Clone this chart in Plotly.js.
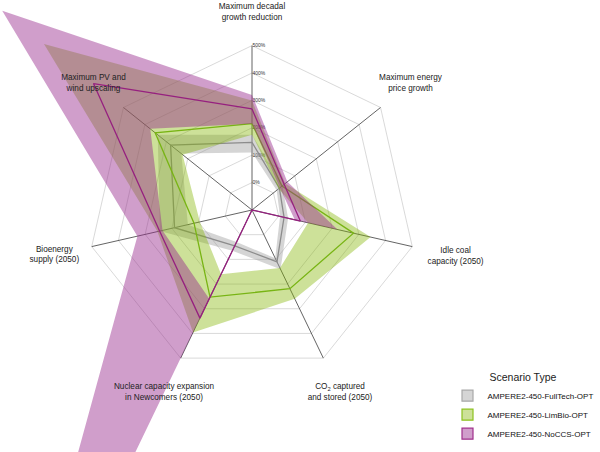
<!DOCTYPE html>
<html><head><meta charset="utf-8">
<script src="https://cdn.plot.ly/plotly-3.0.1.min.js"></script>
<style>
html,body{margin:0;padding:0;width:600px;height:452px;overflow:hidden;background:#fff}
#chart{position:absolute;left:-98.5px;top:-140.5px;width:1000px;height:700px}
</style>
</head><body><div id="chart"></div>
<script>
// ---- axes of the radar ----
const axisKeys = ["growth", "price", "coal", "ccs", "nuclear", "bio", "pvwind"];
const axisLabels = [
  "Maximum decadal<br>growth reduction",
  "Maximum energy<br>price growth",
  "Idle coal<br>capacity (2050)",
  "CO<sub>2</sub> captured<br>and stored (2050)",
  "Nuclear capacity expansion<br>in Newcomers (2050)",
  "Bioenergy<br>supply (2050)",
  "Maximum PV and<br>wind upscaling"
];
const tickValues = [0, 1, 2, 3, 4, 5];
const tickLabels = ["0%", "100%", "200%", "300%", "400%", "500%"];
const scenarioNames = ["AMPERE2-450-FullTech-OPT", "AMPERE2-450-LimBio-OPT", "AMPERE2-450-NoCCS-OPT"];

// ---- values (1 = 100 %), order follows axisKeys ----
const fullTechMin    = [1.10, 0.15, 0.05, 0.95, 0.30, 1.40, 2.30];
const fullTechMedian = [1.47, 0.28, 0.20, 1.10, 0.45, 1.90, 2.80];
const fullTechMax    = [1.75, 0.42, 0.35, 1.40, 0.65, 2.45, 3.40];

const limBioMin    = [1.75, 0.25, 1.10, 1.35, 1.60, 0.95, 2.24];
const limBioMedian = [2.15, 0.40, 2.80, 2.19, 2.53, 1.17, 3.52];
const limBioMax    = [3.00, 0.55, 3.44, 2.60, 3.96, 2.54, 8.71];

const noCcsMin    = [2.15, 0.30, 0.60, -1, 2.60, 2.35, 3.75];
const noCcsMedian = [2.69, 0.50, 0.81, -1, 3.38, 2.46, 6.40];
const noCcsMax    = [3.20, 0.65, 2.20, -1, 20.0, 3.29, 10.66];

// ---- styling ----
const sans = "Liberation Sans, Arial, sans-serif";
const bandColors = ["rgba(150,150,150,0.40)", "rgba(130,180,0,0.40)", "rgba(150,40,140,0.45)"];
const lineColors = ["#8c8c8c", "#78b414", "#96207f"];
const legendBorders = ["#a8a8a8", "#8cc21e", "#a0308c"];
const radialMin = -1;
const pxPerUnit = 27.4;
const polarRadiusPx = 350;
const labelRadii = [6.22, 6.4, 6.62, 6.4, 6.4, 6.4, 6.4];

function closeLoop(a) { return a.concat([a[0]]); }

function bandTrace(minV, maxV, color) {
  const theta = closeLoop(axisKeys).concat([axisKeys[0]], axisKeys.slice(1).reverse(), [axisKeys[0]]);
  const r = closeLoop(maxV).concat([minV[0]], minV.slice(1).reverse(), [minV[0]]);
  return {
    type: "scatterpolar", r: r, theta: theta, mode: "lines",
    fill: "toself", fillcolor: color, line: {width: 0, color: color},
    showlegend: false, hoverinfo: "skip", cliponaxis: false
  };
}
function medianTrace(vals, color) {
  return {
    type: "scatterpolar", r: closeLoop(vals), theta: closeLoop(axisKeys), mode: "lines",
    line: {width: 1.3, color: color}, showlegend: false, hoverinfo: "skip", cliponaxis: false
  };
}
function legendTrace(name, fill, border) {
  // legend entry only: the single point has no radius, so nothing is drawn on the chart
  return {
    type: "scatterpolar", r: [null], theta: [axisKeys[0]], mode: "markers", name: name,
    marker: {symbol: "square", size: 11, color: fill, line: {color: border, width: 1.2}},
    hoverinfo: "skip", showlegend: true
  };
}

// spokes from the centre to the outer tick ring
const spokeR = [], spokeT = [];
axisKeys.forEach(k => { spokeR.push(radialMin, tickValues[tickValues.length - 1], null); spokeT.push(k, k, null); });

const traces = [
  {type: "scatterpolar", r: spokeR, theta: spokeT, mode: "lines",
   line: {color: "#3c3c3c", width: 0.8}, showlegend: false, hoverinfo: "skip", connectgaps: false},
  bandTrace(fullTechMin, fullTechMax, bandColors[0]),
  medianTrace(fullTechMedian, lineColors[0]),
  bandTrace(limBioMin, limBioMax, bandColors[1]),
  medianTrace(limBioMedian, lineColors[1]),
  bandTrace(noCcsMin, noCcsMax, bandColors[2]),
  medianTrace(noCcsMedian, lineColors[2]),
  {type: "scatterpolar", r: labelRadii, theta: axisKeys, mode: "text",
   text: axisLabels, textposition: "middle center", cliponaxis: false,
   textfont: {family: sans, size: 8.2, color: "#222"},
   showlegend: false, hoverinfo: "skip"},
  legendTrace(scenarioNames[0], bandColors[0], legendBorders[0]),
  legendTrace(scenarioNames[1], bandColors[1], legendBorders[1]),
  legendTrace(scenarioNames[2], bandColors[2], legendBorders[2])
];

const layout = {
  width: 1000, height: 700,
  margin: {l: 0, r: 0, t: 0, b: 0},
  paper_bgcolor: "#fff",
  font: {family: sans, color: "#222"},
  polar: {
    domain: {x: [0, 0.7], y: [0, 1]},
    bgcolor: "rgba(0,0,0,0)",
    gridshape: "linear",
    radialaxis: {
      range: [radialMin, radialMin + polarRadiusPx / pxPerUnit],
      tickvals: tickValues, ticktext: tickLabels,
      angle: 90, tickangle: 90, side: "clockwise",
      showline: false, ticks: "",
      gridcolor: "#cfcfcf", gridwidth: 0.8,
      tickfont: {family: sans, size: 5, color: "#333"},
      layer: "below traces"
    },
    angularaxis: {
      type: "category", categoryarray: axisKeys,
      rotation: 90, direction: "clockwise",
      showgrid: false, showline: false, showticklabels: false, ticks: "",
      layer: "below traces"
    }
  },
  showlegend: true,
  legend: {
    x: (447 + 98.5) / 1000, y: 1 - (367 + 140.5) / 700, xanchor: "left", yanchor: "top",
    bgcolor: "rgba(0,0,0,0)",
    title: {text: "Scenario Type", side: "top center", font: {family: sans, size: 10.5, color: "#222"}},
    font: {family: sans, size: 8, color: "#111"},
    traceorder: "normal"
  }
};

Plotly.newPlot("chart", traces, layout, {displayModeBar: false, staticPlot: true});
</script>
</body></html>
